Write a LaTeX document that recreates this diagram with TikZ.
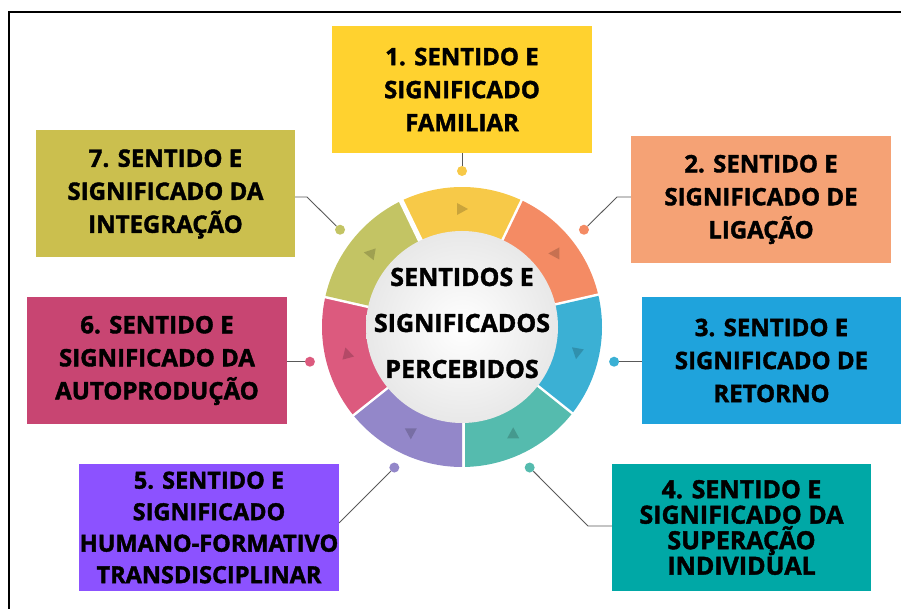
\documentclass[tikz,border=0pt]{standalone}
\usepackage{fontspec}
\setmainfont{Open Sans}[BoldFeatures={FakeBold=1.6}]

\definecolor{boxA}{HTML}{FFD22F}
\definecolor{boxB}{HTML}{F5A275}
\definecolor{boxC}{HTML}{1FA3DC}
\definecolor{boxD}{HTML}{00A8A6}
\definecolor{boxE}{HTML}{8C52FF}
\definecolor{boxF}{HTML}{C84572}
\definecolor{boxG}{HTML}{CBBF4E}
\definecolor{segA}{HTML}{F7C948}
\definecolor{segB}{HTML}{F48B64}
\definecolor{segC}{HTML}{3BB0D4}
\definecolor{segD}{HTML}{55BBAE}
\definecolor{segE}{HTML}{9387C9}
\definecolor{segF}{HTML}{DC5A7E}
\definecolor{segG}{HTML}{C3C464}

\begin{document}
\begin{tikzpicture}[x=1pt,y=1pt,
box/.style={rectangle,minimum width=260,minimum height=127,inner sep=0pt,align=center,font=\fontsize{24}{33}\selectfont\bfseries},
dot/.style={circle,inner sep=0pt,minimum size=10},
link/.style={draw=black!65,line width=0.9}]
\useasboundingbox (0,0) rectangle (901,609);
\draw[line width=1.8] (9,0) -- (9,597) -- (901,597);

\node[box,fill=boxA] (b1) at (462,519.5) {1. SENTIDO E\\SIGNIFICADO\\FAMILIAR};
\node[box,fill=boxB] (b2) at (761,409.5) {2. SENTIDO E\\SIGNIFICADO DE\\LIGAÇÃO};
\node[box,fill=boxC,minimum width=259] (b3) at (771.5,248.5) {3. SENTIDO E\\SIGNIFICADO DE\\RETORNO};
\node[box,fill=boxD,minimum width=259,font=\fontsize{25}{25.5}\selectfont\bfseries] (b4) at (741.5,81.5) {4. SENTIDO E\\SIGNIFICADO DA\\SUPERAÇÃO\\INDIVIDUAL};
\node[box,fill=boxE,font=\fontsize{23.5}{31.5}\selectfont\bfseries] (b5) at (209,81.5) {5. SENTIDO E\\SIGNIFICADO\\HUMANO-FORMATIVO\\TRANSDISCIPLINAR};
\node[box,fill=boxF] (b6) at (157,248.5) {6. SENTIDO E\\SIGNIFICADO DA\\AUTOPRODUÇÃO};
\node[box,fill=boxG,minimum width=259] (b7) at (165.5,415) {7. SENTIDO E\\SIGNIFICADO DA\\INTEGRAÇÃO};

\begin{scope}[shift={(462,282)}]
\foreach \a/\c/\r/\n in {90/segA/0/1,38.57/segB/180/2,-12.86/segC/-100/3,-64.29/segD/90/4,-115.71/segE/-90/5,-167.14/segF/105/6,141.43/segG/170/7}{
	\fill[\c] (\a-25.71:140) arc[start angle=\a-25.71,end angle=\a+25.71,radius=140] -- (\a+25.71:90) arc[start angle=\a+25.71,end angle=\a-25.71,radius=90] -- cycle;
	\draw[white,line width=5] (\a-25.71:85) -- (\a-25.71:146);
	\fill[black,opacity=0.18,shift={(\a:118)},rotate=\r] (6,0) -- (-5,6) -- (-5,-6) -- cycle;
	\node[dot,fill=\c] (d\n) at (\a:156) {};
}
\shade[inner color=white,outer color=black!9] (0,0) circle (96);
\node[align=center,font=\fontsize{25}{46}\selectfont\bfseries] (mid) at (0,4) {SENTIDOS E\\SIGNIFICADOS\\PERCEBIDOS};
\end{scope}

\coordinate (k2) at (617,412);
\coordinate (k4) at (588,83);
\coordinate (k5) at (339,86);
\coordinate (k7) at (307,412);
\draw[link] (d1) -- (b1);
\draw[link] (d2) -- (k2) -- (k2 -| b2.west);
\draw[link] (d3) -- (d3 -| b3.west);
\draw[link] (d4) -- (k4) -- (k4 -| b4.west);
\draw[link] (d5) -- (k5);
\draw[link] (d6) -- (d6 -| b6.east);
\draw[link] (d7) -- (k7) -- (k7 -| b7.east);
\end{tikzpicture}
\end{document}
